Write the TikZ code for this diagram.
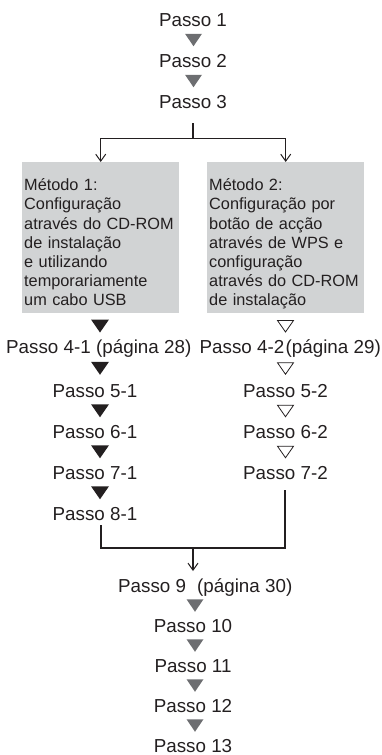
\documentclass[tikz,border=0pt]{standalone}
\usepackage{fontspec}
\setmainfont{Liberation Sans}
\usetikzlibrary{arrows.meta}
\definecolor{txt}{HTML}{231F20}
\definecolor{trig}{HTML}{6D6E71}
\definecolor{boxg}{HTML}{D1D3D4}
\begin{document}
\begin{tikzpicture}[x=1pt,y=-1pt,
  stepnode/.style={anchor=base, inner sep=0pt, text=txt, font=\fontsize{18.8}{22}\selectfont},
  pagenode/.style={stepnode, anchor=base west},
  boxtxt/.style={anchor=base west, inner sep=0pt, text=txt, text width=155pt, align=left,
    font=\fontsize{16.3}{19.2}\selectfont},
  graybox/.style={fill=boxg, draw=none, minimum width=157pt, minimum height=151pt,
    inner sep=0pt, anchor=north west},
  conn/.style={draw=txt, line width=1.1pt},
  arr/.style={conn, -{Straight Barb[length=7pt,width=10pt,line width=1pt]}},
  gtri/.pic={\fill[trig] (-8.5,-6) -- (8.5,-6) -- (0,6.5) -- cycle;},
  btri/.pic={\fill[txt] (-9,-6.5) -- (9,-6.5) -- (0,6.5) -- cycle;},
  otri/.pic={\draw[txt, line width=0.8pt, line join=miter] (-8,-5.5) -- (8,-5.5) -- (0,6) -- cycle;}
]
\useasboundingbox (0,0) rectangle (382,755);

% top chain
\node[stepnode] (p1) at (193,26) {Passo 1};
\node[stepnode] (p2) at (193,67) {Passo 2};
\node[stepnode] (p3) at (193,108) {Passo 3};
\pic at (193.5,39.75) {gtri};
\pic at (193.5,80.75) {gtri};

% boxes
\node[graybox] (lbox) at (22,162) {};
\node[graybox] (rbox) at (207,162) {};
\node[boxtxt] (ltxt) at ([xshift=2pt,yshift=-28.7pt]lbox.north west)
  {Método 1:\\Configuração\\através do CD-ROM\\de instalação\\e utilizando\\temporariamente\\um cabo USB};
\node[boxtxt] (rtxt) at ([xshift=2pt,yshift=-28.7pt]rbox.north west)
  {Método 2:\\Configuração por\\botão de acção\\através de WPS e\\configuração\\através do CD-ROM\\de instalação};

% split
\coordinate (split) at (193,138.5);
\draw[conn] ([yshift=-15pt]p3.south) -- (split);
\draw[arr] (split) -| (lbox.north);
\draw[arr] (split) -| (rbox.north);

% left column
\node[pagenode] (p41) at (6,353) {Passo 4-1};
\node[pagenode] (pg28) at (96,353) {(página 28)};
\node[stepnode] (p51) at (95,397) {Passo 5-1};
\node[stepnode] (p61) at (95,438) {Passo 6-1};
\node[stepnode] (p71) at (95,479) {Passo 7-1};
\node[stepnode] (p81) at (95,520) {Passo 8-1};
\pic at (100,326) {btri};
\pic at (100,368.25) {btri};
\pic at (100,410.75) {btri};
\pic at (100,451.75) {btri};
\pic at (100,492.75) {btri};

% right column
\node[pagenode] (p42) at (199.5,353) {Passo 4-2};
\node[pagenode] (pg29) at (285.5,353) {(página 29)};
\node[stepnode] (p52) at (285.5,397) {Passo 5-2};
\node[stepnode] (p62) at (285.5,438) {Passo 6-2};
\node[stepnode] (p72) at (285.5,479) {Passo 7-2};
\pic at (285.5,326) {otri};
\pic at (285.5,368.25) {otri};
\pic at (285.5,410.75) {otri};
\pic at (285.5,451.75) {otri};

% merge
\coordinate (l8) at (101,525);
\coordinate (r7) at (285,490);
\coordinate (mj) at (193,548);
\draw[conn] (l8) -- (l8 |- mj) -- (r7 |- mj) -- (r7);

% bottom chain
\node[pagenode] (p9) at (118,592) {Passo 9};
\node[pagenode] (pg30) at (197,592) {(página 30)};
\draw[arr, shorten >=1pt] (mj) -- (193,572);
\node[stepnode] (p10) at (193,632) {Passo 10};
\node[stepnode] (p11) at (193,672) {Passo 11};
\node[stepnode] (p12) at (193,712) {Passo 12};
\node[stepnode] (p13) at (193,752) {Passo 13};
\pic at (195,605.25) {gtri};
\pic at (195,645.25) {gtri};
\pic at (195,685.25) {gtri};
\pic at (195,725.25) {gtri};
\end{tikzpicture}
\end{document}
